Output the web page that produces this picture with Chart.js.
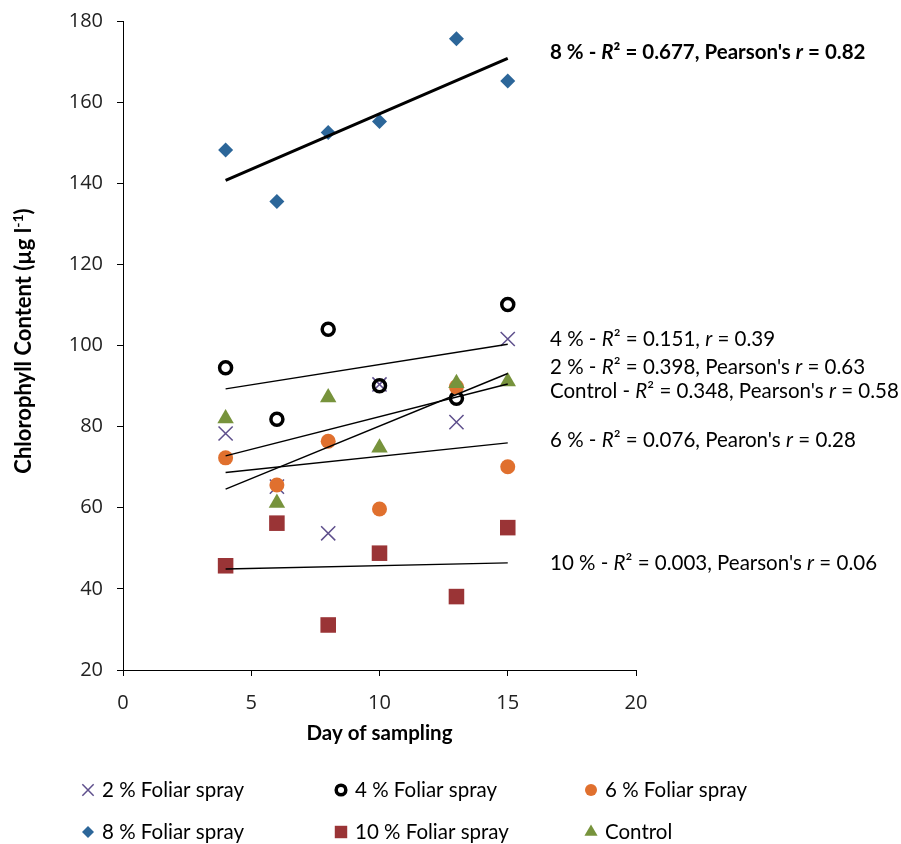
<!DOCTYPE html>
<html>
<head>
<meta charset="utf-8">
<script src="https://cdn.jsdelivr.net/npm/chart.js@4.4.0/dist/chart.umd.min.js"></script>
<style>
  html, body { margin: 0; padding: 0; background: #fff; }
  #wrap { width: 901px; height: 844px; }
</style>
</head>
<body>
<div id="wrap"><canvas id="chart" width="901" height="844"></canvas></div>
<script>
// values
var days = [4, 6, 8, 10, 13, 15];
var spray2 = [78.3, 65.2, 53.7, 90.4, 81.1, 101.6];
var spray4 = [94.5, 81.8, 104.0, 90.1, 87.0, 110.1];
var spray6 = [72.3, 65.6, 76.4, 59.7, 89.8, 70.1];
var spray8 = [148.2, 135.5, 152.5, 155.2, 175.6, 165.2];
var spray10 = [45.7, 56.2, 31.1, 48.8, 38.1, 55.1];
var control = [82.0, 61.2, 87.2, 74.8, 90.7, 91.1];

var seriesNames = ['2 % Foliar spray', '4 % Foliar spray', '6 % Foliar spray',
                   '8 % Foliar spray', '10 % Foliar spray', 'Control'];

// trend lines, ends read at day 4 and day 15
var trendDays = [4, 15];
var trend2 = [64.6, 93.1];
var trend4 = [89.3, 100.3];
var trend6 = [68.7, 76.0];
var trend8 = [140.7, 170.8];
var trend10 = [44.9, 46.4];
var trendControl = [72.8, 90.5];

// *...* marks italic parts
var fitLabels = [
  "8 % - *R*² = 0.677, Pearson's *r* = 0.82",
  "4 % - *R*² = 0.151, *r* = 0.39",
  "2 % - *R*² = 0.398, Pearson's *r* = 0.63",
  "Control - *R*² = 0.348, Pearson's *r* = 0.58",
  "6 % - *R*² = 0.076, Pearon's *r* = 0.28",
  "10 % - *R*² = 0.003, Pearson's *r* = 0.06"
];

var xTicks = [0, 5, 10, 15, 20];
var yTicks = [20, 40, 60, 80, 100, 120, 140, 160, 180];
var xTitle = 'Day of sampling';
var yTitle = 'Chlorophyll Content (µg l';
var yTitleSup = '-1';

// -------------------------------------------------------------
var TEXT_FONT = 'Lato';
var TICK_FONT = "'Open Sans'";

function pts(ys, xs) {
  return (xs || days).map(function (d, i) { return { x: d, y: ys[i] }; });
}

var markerStyles = [
  { pointStyle: 'crossRot', radius: 10, borderColor: '#5E4F8C', backgroundColor: '#5E4F8C', borderWidth: 1.5 },
  { pointStyle: 'circle', radius: 6, borderColor: '#000000', backgroundColor: 'rgba(0,0,0,0)', borderWidth: 3.5 },
  { pointStyle: 'circle', radius: 7.5, borderColor: '#E0702E', backgroundColor: '#E0702E', borderWidth: 0 },
  { pointStyle: 'rectRot', radius: 7.5, borderColor: '#2C6699', backgroundColor: '#2C6699', borderWidth: 0 },
  { pointStyle: 'rect', radius: 11, borderColor: '#9A3436', backgroundColor: '#9A3436', borderWidth: 0 },
  { pointStyle: 'triangle', radius: 9.5, borderColor: '#77933C', backgroundColor: '#77933C', borderWidth: 0 }
];

var seriesValues = [spray2, spray4, spray6, spray8, spray10, control];
var trendValues = [trend2, trend4, trend6, trend8, trend10, trendControl];

var datasets = [];
seriesValues.forEach(function (vals, i) {
  var m = markerStyles[i];
  datasets.push({
    label: seriesNames[i],
    data: pts(vals),
    pointStyle: m.pointStyle,
    pointRadius: m.radius,
    pointHoverRadius: m.radius,
    pointBorderColor: m.borderColor,
    pointBackgroundColor: m.backgroundColor,
    pointBorderWidth: m.borderWidth,
    showLine: false,
    order: 10 - i
  });
});
trendValues.forEach(function (vals, i) {
  datasets.push({
    label: seriesNames[i] + ' trend',
    data: pts(vals, trendDays),
    showLine: true,
    borderColor: '#000',
    borderWidth: i === 3 ? 3 : 1.4,
    pointRadius: 0,
    fill: false,
    order: 0
  });
});

function drawRich(ctx, str, x, y, size, bold) {
  var parts = str.split('*');
  parts.forEach(function (p, i) {
    ctx.font = (i % 2 ? 'italic ' : '') + (bold ? 'bold ' : '') + size + 'px ' + TEXT_FONT;
    ctx.fillText(p, x, y);
    x += ctx.measureText(p).width;
  });
}

var extras = {
  id: 'extras',
  afterDraw: function (chart) {
    var ctx = chart.ctx;
    var area = chart.chartArea;
    ctx.save();
    ctx.fillStyle = '#000';
    ctx.textBaseline = 'middle';
    ctx.textAlign = 'left';

    // fit labels
    var labelY = [52, 339, 367, 391, 440, 563];
    fitLabels.forEach(function (s, i) {
      drawRich(ctx, s, 550, labelY[i], 20.5, i === 0);
    });

    // x title
    ctx.font = 'bold 20.5px ' + TEXT_FONT;
    ctx.textAlign = 'center';
    ctx.fillText(xTitle, (area.left + area.right) / 2, 733);

    // y title with superscript
    ctx.save();
    ctx.translate(24, 341);
    ctx.rotate(-Math.PI / 2);
    ctx.textAlign = 'left';
    ctx.font = 'bold 22px ' + TEXT_FONT;
    var w1 = ctx.measureText(yTitle).width;
    var w3 = ctx.measureText(')').width;
    ctx.font = 'bold 14px ' + TEXT_FONT;
    var w2 = ctx.measureText(yTitleSup).width;
    var x0 = -(w1 + w2 + w3) / 2;
    ctx.font = 'bold 22px ' + TEXT_FONT;
    ctx.fillText(yTitle, x0, 0);
    ctx.font = 'bold 14px ' + TEXT_FONT;
    ctx.fillText(yTitleSup, x0 + w1, -6);
    ctx.font = 'bold 22px ' + TEXT_FONT;
    ctx.fillText(')', x0 + w1 + w2, 0);
    ctx.restore();

    // legend, 3 columns x 2 rows
    var colX = [88, 341, 591];
    var rowY = [790, 832];
    ctx.textAlign = 'left';
    ctx.font = '20.5px ' + TEXT_FONT;
    seriesNames.forEach(function (name, i) {
      var cx = colX[i % 3], cy = rowY[Math.floor(i / 3)];
      var m = markerStyles[i];
      ctx.save();
      ctx.strokeStyle = m.borderColor;
      ctx.fillStyle = m.backgroundColor;
      ctx.lineWidth = m.borderWidth;
      Chart.helpers.drawPoint(ctx, {
        pointStyle: m.pointStyle,
        radius: m.radius * 0.8,
        rotation: 0,
        borderWidth: m.borderWidth
      }, cx, cy);
      ctx.restore();
      ctx.fillStyle = '#000';
      ctx.fillText(name, cx + 14, cy);
    });
    ctx.restore();
  }
};

new Chart(document.getElementById('chart'), {
  type: 'scatter',
  data: { datasets: datasets },
  options: {
    responsive: false,
    animation: false,
    layout: { padding: { top: 21, right: 265, bottom: 0, left: 0 } },
    plugins: { legend: { display: false }, tooltip: { enabled: false } },
    scales: {
      x: {
        type: 'linear',
        min: 0, max: 20,
        afterBuildTicks: function (s) { s.ticks = xTicks.map(function (v) { return { value: v }; }); },
        afterFit: function (s) { s.height = 844 - 670; s.paddingLeft = 0; s.paddingRight = 0; },
        ticks: { color: '#222', padding: 15, font: { family: TICK_FONT, size: 20 }, maxRotation: 0 },
        grid: { drawOnChartArea: false, drawTicks: true, tickLength: 6, color: '#000', lineWidth: 1 },
        border: { color: '#000', width: 1 }
      },
      y: {
        type: 'linear',
        min: 20, max: 180,
        afterBuildTicks: function (s) { s.ticks = yTicks.map(function (v) { return { value: v }; }); },
        afterFit: function (s) { s.width = 123; s.paddingTop = 0; s.paddingBottom = 0; },
        ticks: { color: '#222', padding: 14, font: { family: TICK_FONT, size: 20 } },
        grid: { drawOnChartArea: false, drawTicks: true, tickLength: 6, color: '#000', lineWidth: 1 },
        border: { color: '#000', width: 1 }
      }
    }
  },
  plugins: [extras]
});
</script>
</body>
</html>
